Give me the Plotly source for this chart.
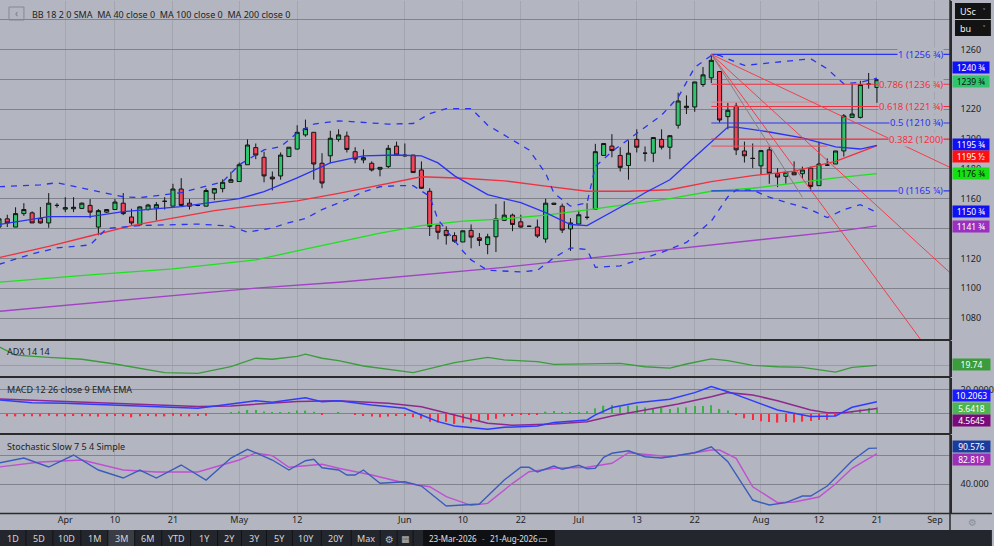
import pandas as pd
import plotly.graph_objects as go
from plotly.subplots import make_subplots

# ---------------- trading calendar (bar numbers) ----------------
HOLIDAYS = ["2026-04-03", "2026-05-25", "2026-06-19", "2026-07-03"]
calendar = [d.strftime("%Y-%m-%d") for d in pd.bdate_range("2026-03-20", "2026-09-04")
            if d.strftime("%Y-%m-%d") not in HOLIDAYS]
bar_no = {d: i - 1 for i, d in enumerate(calendar)}          # 23-Mar-2026 -> 0
bar_dates = [d for d in calendar if d <= "2026-08-21"]
bar_x = [bar_no[d] for d in bar_dates]

tick_dates = ["2026-04-01", "2026-04-10", "2026-04-21", "2026-05-01", "2026-05-12", "2026-06-01",
              "2026-06-10", "2026-06-22", "2026-07-01", "2026-07-13", "2026-07-22", "2026-08-03",
              "2026-08-12", "2026-08-21", "2026-09-01"]
tick_text = ["Apr", "10", "21", "May", "12", "Jun", "10", "22", "Jul", "13", "22", "Aug", "12", "21", "Sep"]

# ---------------- OHLC (US cents / bushel) ----------------
opens = [1141.0, 1146.5, 1141.0, 1150.0, 1150.5, 1146.75, 1143.75, 1155.5, 1153.0, 1153.25, 1153.5,
         1155.5, 1141.0, 1151.0, 1152.75, 1157.0, 1147.75, 1142.5, 1152.75, 1153.75, 1158.25,
         1155.0, 1166.5, 1157.0, 1155.5, 1155.0, 1163.75, 1166.75, 1171.0, 1171.5, 1182.75,
         1194.25, 1187.75, 1174.5, 1175.25, 1188.25, 1193.25, 1202.75, 1204.5, 1183.75, 1188.75,
         1199.75, 1202.0, 1191.5, 1186.0, 1183.75, 1179.75, 1181.5, 1195.25, 1189.25, 1189.25,
         1179.25, 1165.0, 1142.25, 1138.75, 1135.25, 1131.0, 1138.75, 1133.75, 1129.25, 1134.5,
         1145.5, 1149.0, 1144.5, 1141.5, 1141.0, 1133.0, 1157.0, 1155.0, 1139.75, 1143.0,
         1147.5, 1153.0, 1189.0, 1195.25, 1189.0, 1182.25, 1199.75, 1190.5, 1190.5, 1199.75,
         1194.5, 1209.25, 1221.0, 1221.5, 1236.5, 1241.0, 1245.25, 1215.0, 1222.0, 1192.0,
         1187.0, 1182.0, 1192.75, 1176.75, 1175.0, 1177.75, 1176.75, 1180.5, 1168.75, 1182.5,
         1183.25, 1192.0, 1214.5, 1214.5, 1236.75, 1234.5]
highs = [1148.0, 1149.25, 1154.25, 1157.0, 1151.5, 1154.5, 1163.75, 1157.0, 1161.0, 1161.0, 1157.5,
         1159.75, 1153.0, 1153.0, 1159.75, 1163.75, 1153.25, 1155.0, 1156.5, 1157.75, 1161.0,
         1170.0, 1173.75, 1159.75, 1156.0, 1167.0, 1167.0, 1173.0, 1178.0, 1184.25, 1199.75,
         1197.0, 1191.5, 1178.25, 1191.0, 1194.5, 1209.25, 1213.0, 1204.5, 1190.5, 1205.5,
         1206.5, 1205.0, 1194.5, 1193.0, 1185.0, 1181.0, 1196.0, 1198.25, 1197.0, 1189.25,
         1185.0, 1167.0, 1142.25, 1141.5, 1137.5, 1138.5, 1142.75, 1137.0, 1136.5, 1156.5,
         1158.25, 1150.0, 1149.25, 1142.0, 1146.0, 1160.0, 1157.25, 1156.75, 1147.0, 1152.0,
         1157.0, 1196.75, 1197.0, 1203.25, 1194.5, 1199.0, 1206.5, 1195.0, 1201.0, 1206.5,
         1202.25, 1231.0, 1229.25, 1238.25, 1248.25, 1256.75, 1245.25, 1224.25, 1224.25, 1198.25,
         1197.0, 1192.25, 1195.0, 1180.5, 1177.75, 1185.0, 1181.5, 1181.5, 1198.25, 1187.0,
         1192.0, 1216.75, 1237.0, 1239.0, 1244.25, 1239.75]
lows = [1139.0, 1141.0, 1141.0, 1148.5, 1143.75, 1143.25, 1140.5, 1154.0, 1151.0, 1151.0, 1153.0,
        1147.0, 1135.5, 1150.5, 1152.5, 1149.0, 1142.5, 1142.0, 1152.0, 1145.5, 1152.75,
        1155.0, 1155.0, 1152.75, 1155.0, 1155.0, 1159.0, 1164.25, 1171.0, 1171.5, 1182.75,
        1186.5, 1171.0, 1165.5, 1172.75, 1188.25, 1193.0, 1201.5, 1172.75, 1167.0, 1183.75,
        1198.25, 1191.0, 1183.75, 1183.75, 1178.25, 1175.0, 1180.5, 1189.25, 1188.25, 1177.5,
        1166.5, 1135.0, 1132.75, 1129.25, 1130.5, 1131.0, 1126.75, 1128.25, 1122.75, 1124.25,
        1145.0, 1138.25, 1140.5, 1141.0, 1133.75, 1130.5, 1156.0, 1137.0, 1125.0, 1143.0,
        1146.0, 1153.0, 1189.0, 1187.75, 1178.25, 1172.75, 1191.0, 1185.0, 1184.5, 1193.0,
        1186.5, 1207.0, 1216.75, 1218.25, 1235.0, 1237.5, 1211.0, 1206.5, 1189.25, 1184.25,
        1180.5, 1176.0, 1170.0, 1167.75, 1170.0, 1176.0, 1173.75, 1165.25, 1168.75, 1182.0,
        1183.25, 1188.25, 1214.5, 1213.75, 1233.75, 1224.25]
closes = [1146.5, 1143.75, 1150.0, 1152.75, 1143.75, 1143.75, 1157.0, 1155.5, 1154.0, 1154.25, 1157.0,
          1151.0, 1152.0, 1152.75, 1157.75, 1150.0, 1143.75, 1154.5, 1155.75, 1156.0, 1158.25,
          1166.5, 1155.5, 1155.0, 1155.5, 1165.5, 1166.75, 1171.0, 1172.75, 1182.75, 1196.0,
          1189.25, 1175.25, 1173.25, 1189.25, 1194.5, 1204.5, 1207.0, 1183.25, 1170.5, 1200.5,
          1202.75, 1193.0, 1186.5, 1187.5, 1179.25, 1181.0, 1193.75, 1189.25, 1188.75, 1177.5,
          1167.0, 1141.5, 1137.5, 1135.25, 1131.5, 1138.5, 1134.25, 1132.0, 1134.5, 1146.5,
          1149.0, 1142.75, 1141.0, 1141.5, 1135.0, 1157.0, 1156.25, 1139.0, 1143.75, 1149.25,
          1147.5, 1191.5, 1197.0, 1192.25, 1181.0, 1190.5, 1194.5, 1190.5, 1201.0, 1194.5,
          1202.25, 1225.5, 1222.0, 1238.25, 1243.0, 1252.75, 1212.75, 1219.25, 1192.75, 1188.75,
          1187.0, 1192.25, 1177.0, 1174.5, 1177.75, 1176.0, 1179.25, 1168.25, 1183.25, 1182.5,
          1192.0, 1215.5, 1216.75, 1236.5, 1236.75, 1239.75]

# ---------------- overlays (bar no. -> value) ----------------
ma200_bar = [-1, 10, 20, 30, 40, 50, 60, 70, 80, 90, 100, 105]
ma200 = [1084.5, 1090, 1095, 1100, 1104, 1109, 1114, 1120, 1126, 1132, 1138, 1141.75]

ma100_bar = [-1, 10, 20, 25, 30, 35, 40, 45, 50, 55, 60, 65, 70, 75, 80, 85, 90, 95, 100, 105]
ma100 = [1104, 1109, 1113, 1116, 1119, 1125, 1131, 1137, 1142, 1145, 1146.5, 1149, 1152.5, 1156,
         1160, 1165, 1167, 1170.5, 1174, 1176.75]

ma40_bar = [-1, 5, 10, 15, 20, 25, 30, 35, 40, 45, 50, 55, 60, 65, 70, 75, 80, 85, 90, 95, 100, 105]
ma40 = [1120.5, 1128, 1135, 1142, 1147, 1152, 1155.5, 1158.5, 1163.5, 1169.3, 1174.7, 1173.7, 1172,
        1168.5, 1165, 1165, 1166, 1171.5, 1175.5, 1178.5, 1185, 1195.5]

bb_mid_bar = [-1, 5, 10, 14, 21, 28, 31, 35, 39, 43, 47, 50, 52, 54, 58, 62, 65, 68, 70, 72, 75, 77,
              80, 83, 87, 88, 92, 96, 100, 103, 105]
bb_mid = [1142.7, 1148, 1148, 1151.3, 1154.7, 1160, 1164.7, 1174, 1184, 1188.7, 1189.3, 1188.7, 1184,
          1175.3, 1162.7, 1157.3, 1150.7, 1142.7, 1142, 1148, 1157.3, 1164, 1172.7, 1188, 1208, 1208,
          1204.7, 1200.7, 1194.7, 1193.3, 1195.75]

bb_up_bar = [-1, 4, 6, 10, 14, 16, 21, 26, 28, 31, 33, 35, 37, 40, 43, 46, 49, 51, 53, 56, 58, 63, 65,
             66, 68, 70, 71, 73, 76, 79, 81, 83, 85, 86, 89, 93, 97, 99, 101, 103, 105]
bb_up = [1168, 1169.3, 1170.7, 1166, 1161.3, 1160.7, 1164, 1171.3, 1182.7, 1192.7, 1194.9, 1204, 1210,
         1212.2, 1210.9, 1210, 1210.4, 1217, 1220.4, 1220.4, 1209.3, 1192.7, 1177, 1163.8, 1155, 1157.1,
         1181.6, 1191.6, 1203.8, 1216, 1228, 1248, 1256, 1256, 1249.3, 1251.6, 1253.8, 1247, 1237, 1238,
         1240.75]

bb_lo_bar = [-1, 3, 6, 10, 12, 16, 23, 27, 29, 32, 34, 36, 38, 41, 43, 45, 47, 49, 51, 52, 55, 56, 58,
             62, 64, 66, 68, 70, 71, 74, 79, 82, 85, 87, 88, 90, 92, 93, 97, 99, 101, 103, 105]
bb_lo = [1116, 1123, 1127, 1129, 1140, 1142, 1143, 1141.6, 1137.6, 1140.4, 1144, 1146.7, 1152.7, 1159.3,
         1164.7, 1168, 1168.7, 1168.7, 1161.6, 1146, 1124.9, 1119, 1112, 1111, 1112, 1120.4, 1127, 1126,
         1114, 1115, 1124, 1130.7, 1145, 1161.3, 1165.8, 1165.8, 1161, 1159.3, 1152.7, 1147.3, 1152.7,
         1156, 1150.75]

# ---------------- drawings ----------------
PEAK_DATE = "2026-07-24"
fib_ratio = ["1", "0.786", "0.618", "0.5", "0.382", "0"]
fib_price = [1256.75, 1236.75, 1221.75, 1210.75, 1200.0, 1165.25]
fib_text = ["1256 ¾", "1236 ¾", "1221 ¾", "1210 ¾", "1200", "1165 ¼"]
fan_end_price = [1181.0, 1110.4, 1038.8]          # prices where fan lines meet the right edge
gann_end_date, gann_end_price = "2026-08-10", 1161.0
extra_lines = [(1195.25, "2026-08-13", "#e8505c"), (1224.75, "2026-08-12", "#d9868e")]

# ---------------- lower panels ----------------
adx_bar = [-1, 1, 5, 9, 13, 17, 19, 23, 27, 30, 32, 35, 36, 38, 40, 43, 46, 49, 54, 58, 60, 64, 66, 70,
           74, 77, 80, 82, 85, 87, 90, 93, 96, 100, 102, 105]
adx = [32.7, 26.9, 25.3, 24.0, 20.7, 16.5, 14.7, 14.2, 18.8, 24.7, 24.0, 26.0, 27.6, 24.7, 23.0, 19.3,
       17.0, 14.7, 21.6, 25.3, 23.5, 22.3, 20.5, 20.7, 21.2, 18.8, 17.9, 20.7, 24.2, 23.0, 19.8, 18.8,
       18.4, 15.1, 18.4, 19.74]

macd_bar = [-1, 3, 7, 13, 17, 23, 27, 30, 32, 34, 36, 38, 40, 44, 48, 50, 52, 54, 58, 60, 64, 66, 70, 71,
            73, 76, 80, 83, 85, 87, 90, 93, 97, 100, 102, 105]
macd = [11.7, 9.4, 8.9, 7.5, 6.1, 4.7, 8.3, 11.1, 9.7, 11.7, 13.6, 10.3, 11.1, 7.5, 4.7, -0.8, -6.4, -10,
        -12.8, -11.1, -10, -7.2, -5, -0.8, 5.4, 9.4, 12.2, 17.8, 22.8, 18.6, 11.1, 3.3, -2.2, -1.7, 5.6,
        10.2063]
signal_bar = [-1, 5, 11, 17, 23, 27, 31, 35, 40, 46, 50, 54, 58, 61, 66, 70, 73, 77, 81, 85, 87, 90, 93,
              97, 99, 101, 105]
signal = [12.5, 11, 9.5, 8, 6.3, 6.7, 8.9, 10.5, 11.1, 8.9, 6.1, -0.8, -7.8, -9.4, -8.3, -6.4, -1.7, 3.3,
          8.3, 14.4, 17.8, 15.8, 11.1, 3.3, 1.1, 1.1, 4.5645]
hist = [-2, -2, -2, -2, -2, -1.5, -2, -2, -1.7, -2, -2, -2.2, -2, -1.7, -2, -2.8, -2, -1.7, -2, -2,
        -1.5, -2, -2, -1.7, -1.5, 0.2, 0.8, 1.2, 2.0, 3.3, 3.3, 2.0, 1.5, 1.5, 1.5,
        2.8, 2.8, 1.9, -0.8, 0.3, 1.0, 0.2, -0.8, -1.7, -2.2, -2.8, -2.2, -1.7, -1.7, -2.8,
        -3.9, -6.4, -7.2, -6.4, -8.3, -7.2, -7.2, -5.8, -5.0, -3.9, -2.2, -1.7, -0.8, -0.6, -0.5,
        1.9, 2.5, 1.7, 1.7, 1.7, 2.2, 4.7, 6.9, 7.5, 6.1, 6.9, 6.9, 5.5, 4.7, 5.0, 4.2,
        5.5, 5.5, 6.7, 6.7, 7.2, 4.2, 2.8, -0.8, -3.6, -5.0, -6.1, -6.7, -7.2, -6.7, -7.2,
        -6.4, -5.8, -5.0, -5.0, -1.7, 2.2, 2.5, 3.9, 5.0, 5.6418]

stk_bar = [-1, 2, 5, 8, 11, 14, 16, 18, 21, 24, 27, 29, 32, 34, 36, 37, 38, 40, 41, 42, 43, 45, 48, 50,
           53, 55, 57, 60, 62, 63, 64, 66, 67, 69, 70, 71, 72, 73, 75, 77, 79, 83, 85, 87, 90, 92, 94,
           96, 97, 99, 102, 104, 105]
stk = [69.8, 76.8, 64.2, 81, 60, 48.8, 60, 48.8, 67, 46, 76.8, 89, 74, 60, 73, 75, 63.2, 60, 53, 53, 60,
       41.4, 43.6, 37.6, 9.6, 10.6, 12.4, 46, 63.8, 63.8, 57.2, 65.6, 61, 66.6, 61.8, 62.5, 77.8, 83.4,
       87, 78.6, 76.8, 84.2, 92.6, 71.6, 18, 11, 14.3, 23.6, 23.6, 37.6, 73, 90.3, 90.576]
std_bar = [-1, 4, 9, 14, 18, 23, 28, 30, 32, 34, 38, 40, 44, 48, 51, 53, 56, 58, 61, 63, 66, 70, 73, 75,
           80, 85, 86, 88, 90, 93, 95, 98, 100, 102, 105]
std = [64.2, 71.2, 74, 60, 57.2, 57.2, 74, 84, 80, 63.8, 68, 62.4, 53, 41.8, 36.6, 22.7, 10.6, 13.4, 41.4,
       57.6, 62.4, 63.8, 69.4, 84.2, 78.6, 88, 88, 76.4, 36.6, 14.3, 15.2, 22.2, 40.4, 62.4, 82.819]
stoch_level_dark = 20

toolbar_labels = ["1D", "5D", "10D", "1M", "3M", "6M", "YTD", "1Y", "2Y", "3Y", "5Y", "10Y", "20Y", "Max"]
date_from, date_to = "23-Mar-2026", "21-Aug-2026"

# ---------------- styling / geometry ----------------
W, H = 994, 546
PL, PR, PT, PB = 0, 952, 1, 513      # plot area in pixels
BG = "#b3b6c0"
GRID = "#80838c"
VGRID = "#a3a6af"
BLUE = "#2a33f2"
RED = "#f0313f"
FONT = "Noto Sans, DejaVu Sans, sans-serif"
X_MIN, X_MAX = -0.88, 113.82

def px(x):
    return (x - PL) / (PR - PL)

def py(y):
    return (PB - y) / (PB - PT)

def cents(v):
    whole = int(v)
    frac = round((v - whole) * 4)
    return str(whole) + {0: "", 1: " ¼", 2: " ½", 3: " ¾"}[frac]

fig = make_subplots(rows=4, cols=1, shared_xaxes=True, vertical_spacing=0)

def line(xs, ys, color, row, width=1.3, dash="solid"):
    fig.add_trace(go.Scatter(x=xs, y=ys, mode="lines", line=dict(color=color, width=width, dash=dash),
                             hoverinfo="skip"), row=row, col=1)

# main overlays
line(ma200_bar, ma200, "#a242c4", 1)
line(ma100_bar, ma100, "#1fe01f", 1)
line(ma40_bar, ma40, RED, 1)
line(bb_up_bar, bb_up, BLUE, 1, 1.3, "6px,6px")
line(bb_lo_bar, bb_lo, BLUE, 1, 1.3, "6px,6px")
line(bb_mid_bar, bb_mid, BLUE, 1)

peak_x = bar_no[PEAK_DATE]
peak_p = fib_price[0]
fib_cols = [BLUE, RED, RED, BLUE, RED, BLUE]
for p, c in zip(fib_price, fib_cols):
    line([peak_x, X_MAX], [p, p], c, 1, 1.1)
for p, d, c in extra_lines:
    line([peak_x, bar_no[d]], [p, p], c, 1, 1.0)
for ep in fan_end_price:
    line([peak_x, X_MAX], [peak_p, ep], "#f0404c", 1, 1.0)
line([peak_x, bar_no[gann_end_date]], [peak_p, gann_end_price], "#8a7c7c", 1, 1.0)

fig.add_trace(go.Candlestick(
    x=bar_x, open=opens, high=highs, low=lows, close=closes,
    increasing=dict(line=dict(color="#141414", width=1), fillcolor="#2fc46d"),
    decreasing=dict(line=dict(color="#141414", width=1), fillcolor="#f2465b"),
    whiskerwidth=0, hoverinfo="skip"), row=1, col=1)

# ADX
line(adx_bar, adx, "#3b9c3b", 2, 1.3)
# MACD
fig.add_trace(go.Bar(x=bar_x[1:], y=hist, width=0.16,
                     marker=dict(color=["#3fae49" if v >= 0 else "#ff2a3a" for v in hist], line=dict(width=0)),
                     hoverinfo="skip"), row=3, col=1)
line(signal_bar, signal, "#8e2a8e", 3, 1.5)
line(macd_bar, macd, "#2f3cff", 3, 1.5)
# Stochastic
fig.add_hline(y=stoch_level_dark, line=dict(color="#1c1c1c", width=1.3), row=4, col=1)
line(std_bar, std, "#c050d2", 4, 1.4)
line(stk_bar, stk, "#3c5cbc", 4, 1.4)

# ---------------- layout ----------------
ph = PB - PT
doms = [((PB - 340) / ph, 1.0), ((PB - 377) / ph, (PB - 341) / ph),
        ((PB - 434) / ph, (PB - 378) / ph), (0.0, (PB - 435) / ph)]
tick_pos = [bar_no[d] for d in tick_dates]

fig.update_layout(
    width=W, height=H, margin=dict(l=PL, r=W - PR, t=PT, b=H - PB),
    paper_bgcolor=BG, plot_bgcolor=BG, showlegend=False, hovermode=False,
    font=dict(family=FONT, size=9, color="#1e1e1e"),
)
for r in range(1, 5):
    fig.update_xaxes(row=r, col=1, range=[X_MIN, X_MAX], tickmode="array", tickvals=tick_pos,
                     ticktext=tick_text, showgrid=True, gridcolor=VGRID, gridwidth=1, zeroline=False,
                     showticklabels=(r == 4), ticks="", tickfont=dict(size=9, color="#222"),
                     rangeslider=dict(visible=False), showline=False)
ycfg = dict(side="right", showline=True, linecolor="#2a2a2a", linewidth=1.5, zeroline=False,
            ticks="", ticklabelstandoff=7, tickfont=dict(size=9, color="#222"), gridwidth=1)
main_ticks = list(range(1080, 1281, 20))
hidden_ticks = (1280, 1240, 1140)          # covered by the value boxes in the reference
fig.update_yaxes(row=1, col=1, domain=list(doms[0]), range=[1065.3, 1292.5], tickvals=main_ticks,
                 ticktext=["" if t in hidden_ticks else str(t) for t in main_ticks], gridcolor=GRID, **ycfg)
fig.update_yaxes(row=2, col=1, domain=list(doms[1]), range=[11.67, 36.67], tickvals=[20], ticktext=[""],
                 gridcolor="#9a9da6", **ycfg)
fig.update_yaxes(row=3, col=1, domain=list(doms[2]), range=[-16.7, 30], tickvals=[0, 20],
                 ticktext=["", "20.0000"], gridcolor=GRID, **ycfg)
fig.update_yaxes(row=4, col=1, domain=list(doms[3]), range=[-0.14, 109], tickvals=[40, 80],
                 ticktext=["40.000", ""], gridcolor=GRID, **ycfg)

shapes = []
for yy in (340, 377, 434):
    shapes.append(dict(type="line", xref="paper", yref="paper", x0=0, x1=1, y0=py(yy), y1=py(yy),
                       line=dict(color="#2b2b2b", width=2)))
shapes.append(dict(type="line", xref="paper", yref="paper", x0=0, x1=W / PR, y0=py(513.5), y1=py(513.5),
                   line=dict(color="#2b2b2b", width=1.5)))
shapes.append(dict(type="line", xref="paper", yref="paper", x0=1, x1=1, y0=py(530), y1=py(0),
                   line=dict(color="#2b2b2b", width=1.5)))
# toolbar
shapes.append(dict(type="rect", xref="paper", yref="paper", x0=0, x1=W / PR, y0=py(546), y1=py(530),
                   fillcolor="#23262c", line=dict(width=0), layer="above"))
btn_x = [13, 39, 67, 95, 122, 148, 177, 205, 230, 255, 280, 307, 337, 367]
btn_edges = [0, 26, 53, 81, 108, 135, 162, 191, 218, 242, 267, 293, 322, 352, 381, 398, 414]
shapes.append(dict(type="rect", xref="paper", yref="paper", x0=px(108), x1=px(135), y0=py(546), y1=py(530),
                   fillcolor="#3a3d45", line=dict(width=0), layer="above"))
for e in btn_edges[1:]:
    shapes.append(dict(type="line", xref="paper", yref="paper", x0=px(e), x1=px(e), y0=py(546), y1=py(530),
                       line=dict(color="#121316", width=1), layer="above"))
shapes.append(dict(type="rect", xref="paper", yref="paper", x0=px(424), x1=px(556), y0=py(546), y1=py(530),
                   fillcolor="#0f1013", line=dict(width=0), layer="above"))
# unit selector (top right)
for y0, y1 in ((3, 19), (20, 36)):
    shapes.append(dict(type="rect", xref="paper", yref="paper", x0=px(957), x1=px(993), y0=py(y1), y1=py(y0),
                       fillcolor="#131313", line=dict(width=0), layer="above"))
# legend box
shapes.append(dict(type="rect", xref="paper", yref="paper", x0=px(9), x1=px(24), y0=py(20), y1=py(7),
                   fillcolor="rgba(0,0,0,0)", line=dict(color="#858891", width=1), layer="above"))
fig.update_layout(shapes=shapes)

ann = []
def txt(x, y, s, color="#1e1e1e", size=9, xanchor="left", **kw):
    ann.append(dict(xref="paper", yref="paper", x=px(x), y=py(y), text=s, showarrow=False,
                    xanchor=xanchor, yanchor="middle", font=dict(family=FONT, size=size, color=color), **kw))

txt(16.5, 13, "‹", "#777", 10, "center")
txt(30, 14, "BB 18 2 0 SMA&nbsp;&nbsp;MA 40 close 0&nbsp;&nbsp;MA 100 close 0&nbsp;&nbsp;MA 200 close 0", "#222", 9)
txt(5, 351, "ADX 14 14", "#222", 9)
txt(5, 389, "MACD 12 26 close 9 EMA EMA", "#222", 9)
txt(5, 446, "Stochastic Slow 7 5 4 Simple", "#222", 9)
txt(960, 11, "USc", "#f0f0f0", 9)
txt(960, 28, "bu", "#f0f0f0", 9)
txt(990, 11, "˅", "#cfcfcf", 8, "right")
txt(990, 28, "˅", "#cfcfcf", 8, "right")
txt(975, 522, "⚙", "#8c8f98", 10, "center")
for lab, cx in zip(toolbar_labels, btn_x):
    txt(cx, 538.5, lab, "#d6d6d6", 9, "center")
txt(390, 538.5, "⚙", "#bdbdbd", 10, "center")
txt(406, 538.5, "▦", "#bdbdbd", 9, "center")
txt(454, 538.5, date_from, "#e0e0e0", 8, "center")
txt(485, 538.5, "-", "#909090", 8, "center")
txt(515, 538.5, date_to, "#e0e0e0", 8, "center")
txt(544, 538.5, "▭", "#d0d0d0", 10, "center")

# fib labels
for r, t, p, c in zip(fib_ratio, fib_text, fib_price, fib_cols):
    ann.append(dict(xref="paper", yref="y", x=px(946), y=p, text=f"{r} ({t})", showarrow=False,
                    xanchor="right", yanchor="middle", bgcolor=BG, borderpad=0,
                    font=dict(family=FONT, size=9.5, color=c)))

# value boxes on the right axis
value_boxes = [  # (axis, value, text, bg, fg, yshift px)
    ("y", bb_up[-1], cents(bb_up[-1]), "#1010f5", "#ffffff", 11),
    ("y", closes[-1], cents(closes[-1]), "#2fc46d", "#111111", -2),
    ("y", bb_mid[-1], cents(bb_mid[-1]), "#1010f5", "#ffffff", 1),
    ("y", ma40[-1], cents(ma40[-1]), "#ff1010", "#ffffff", -11),
    ("y", ma100[-1], cents(ma100[-1]), "#14e014", "#111111", 0),
    ("y", bb_lo[-1], cents(bb_lo[-1]), "#1010f5", "#ffffff", 1),
    ("y", ma200[-1], cents(ma200[-1]), "#9a2fc0", "#ffffff", -1),
    ("y2", adx[-1], f"{adx[-1]:.2f}", "#3b9c3b", "#ffffff", 1),
    ("y3", macd[-1], f"{macd[-1]:.4f}", "#1a1aff", "#ffffff", 6),
    ("y3", hist[-1], f"{hist[-1]:.4f}", "#4cb552", "#ffffff", -1),
    ("y3", signal[-1], f"{signal[-1]:.4f}", "#7a0a7a", "#ffffff", -12),
    ("y4", stk[-1], f"{stk[-1]:.3f}", "#1c3c9c", "#ffffff", 2),
    ("y4", std[-1], f"{std[-1]:.3f}", "#9c30b4", "#ffffff", -6),
]
for axis, v, s, bgc, fgc, ys in value_boxes:
    ann.append(dict(xref="paper", yref=axis, x=px(954), y=v, text=s, showarrow=False, xanchor="left",
                    yanchor="middle", yshift=ys, bgcolor=bgc, borderpad=0, width=36 if axis == "y" else 37,
                    height=11, align="center", font=dict(family=FONT, size=8.5, color=fgc)))
fig.update_layout(annotations=ann)

fig.write_html("out.html", config={"displayModeBar": False})

# remove the browser's default page margin so the figure sits at the window origin
with open("out.html", "r", encoding="utf-8") as f:
    page = f.read()
page = page.replace("<head>", "<head><style>html,body{margin:0;padding:0;overflow:hidden;}</style>", 1)
with open("out.html", "w", encoding="utf-8") as f:
    f.write(page)
